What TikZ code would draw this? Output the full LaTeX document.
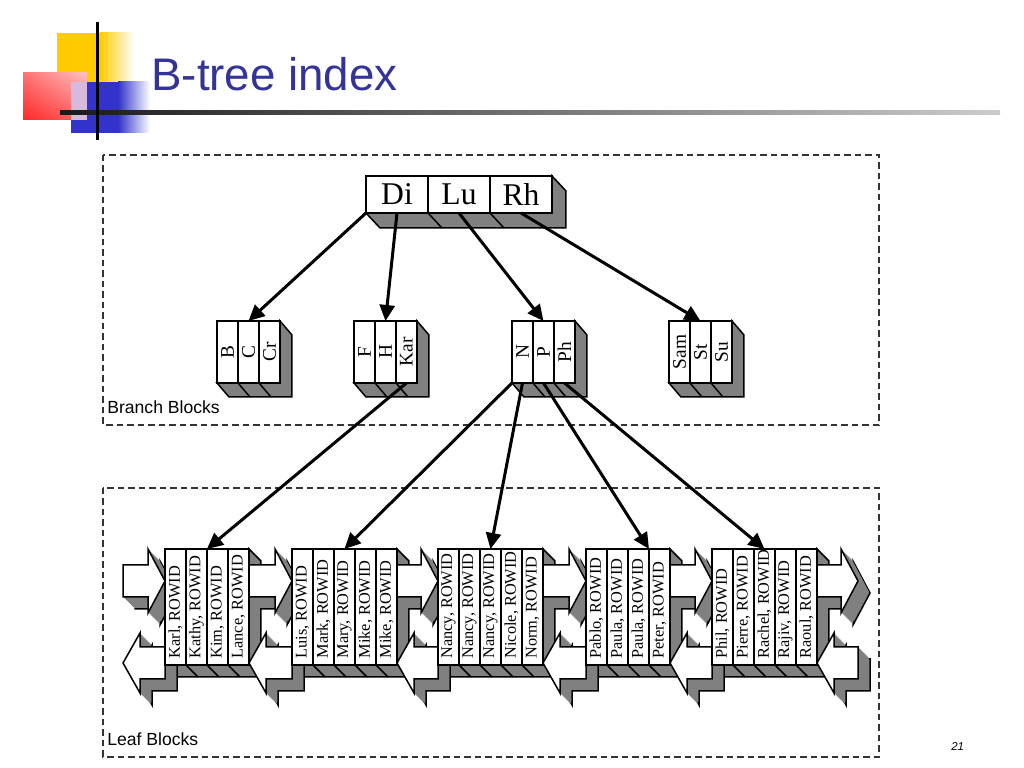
\documentclass[tikz,border=0pt]{standalone}
\usepackage{fontspec}
\setmainfont{Liberation Serif}
\newfontfamily\slidefont{Liberation Sans}
\usetikzlibrary{positioning,calc,arrows.meta,shadings}

\definecolor{titleblue}{RGB}{51,51,153}
\definecolor{facegray}{RGB}{128,128,128}
\definecolor{logoyellow}{RGB}{255,204,0}
\definecolor{logored}{RGB}{255,40,40}
\definecolor{logoblue}{RGB}{51,51,204}
\definecolor{logolilac}{RGB}{214,186,220}

\pgfdeclarelayer{faces}
\pgfdeclarelayer{links}
\pgfsetlayers{faces,links,main}

% rotated text of a leaf entry
\newcommand{\leaftext}[1]{\rotatebox{90}{\makebox[20.6mm][l]{#1}}}
\newcommand{\branchtext}[1]{\rotatebox{90}{#1}}

% depth faces of a block: first cell, last cell, inner cells, dx, dy
\newcommand{\blockdepth}[5]{%
  \begin{pgfonlayer}{faces}
  \filldraw[fill=facegray, draw=black, line width=0.3mm] (#1.south west) -- ++(#4,-#5)
    -- ($(#2.south east)+(#4,-#5)$) -- ($(#2.north east)+(#4,-#5)$)
    -- (#2.north east) -- (#2.south east) -- cycle;
  \foreach \c in {#3}
    \draw[line width=0.3mm] (\c.south east) -- ++(#4,-#5);
  \end{pgfonlayer}}

% block arrows between leaf blocks
\newcommand{\fwdshape}[2]{(#1,-56.5) -- (#2-1.7,-56.5) -- (#2-1.7,-54.9) -- (#2,-58.1)
  -- (#2-1.7,-61.3) -- (#2-1.7,-59.7) -- (#1,-59.7) -- cycle}
\newcommand{\backshape}[2]{(#1,-66.3) -- (#1+1.7,-63.3) -- (#1+1.7,-64.7) -- (#2,-64.7)
  -- (#2,-67.9) -- (#1+1.7,-67.9) -- (#1+1.7,-69.3) -- cycle}
\newcommand{\linkarrow}[1]{%
  \begin{pgfonlayer}{links}
  \filldraw[fill=facegray, draw=black, line width=0.3mm, shift={(1.2,-1.2)}] #1;
  \foreach \s in {0.05,0.1,...,1.15}
    \fill[facegray, shift={(\s,-\s)}] #1;
  \filldraw[fill=white, draw=black, line width=0.3mm] #1;
  \end{pgfonlayer}}

\begin{document}
\begin{tikzpicture}[scale=0.2,
  rootcell/.style={draw, fill=white, line width=0.3mm, minimum width=12.4mm, minimum height=7.4mm,
    inner sep=0pt, outer sep=0pt, font=\fontsize{18}{20}\selectfont},
  branchcell/.style={draw, fill=white, line width=0.3mm, minimum width=4.2mm, minimum height=12.4mm,
    inner sep=0pt, outer sep=0pt, font=\fontsize{11}{12}\selectfont},
  leafcell/.style={draw, fill=white, line width=0.3mm, minimum width=4.2mm, minimum height=23.2mm,
    inner sep=0pt, outer sep=0pt, font=\fontsize{9.3}{10}\selectfont},
  treelink/.style={line width=0.6mm, -{Triangle[length=3.2mm,width=3mm]}},
  frame/.style={black!80, line width=0.25mm, dash pattern=on 1.3mm off 0.8mm},
  blocklabel/.style={anchor=base west, inner sep=0pt, font=\slidefont\fontsize{10}{12}\selectfont}]
\useasboundingbox (0,0) rectangle (102.4,-76.8);

% slide heading
\fill[logoyellow] (5.7,-3.3) rectangle (10,-9.5);
\shade[left color=logoyellow, right color=white] (10,-3.3) rectangle (13.4,-9.5);
\shade[lower left=logored, upper right=red!25, upper left=red!55, lower right=red!60] (2.3,-7.3) rectangle (8.7,-12);
\fill[logolilac] (7.1,-8.2) rectangle (8.7,-12);
\fill[logoblue] (7.1,-12) rectangle (8.7,-13.3);
\fill[logoblue] (8.7,-8.2) rectangle (11.8,-13.3);
\shade[left color=logoblue, right color=white] (11.8,-8.2) rectangle (15,-13.3);
\shade[left color=black!90, right color=black!20] (6,-11.1) rectangle (100,-11.5);
\draw[line width=0.6mm] (9.7,-2.2) -- (9.7,-14);
\node[anchor=base west, inner sep=0pt, text=titleblue, font=\slidefont\fontsize{26}{30}\selectfont] (title) at (15.1,-9.1) {B-tree index};
\node[anchor=base west, inner sep=0pt, font=\slidefont\itshape\fontsize{6.5}{8}\selectfont] (pageno) at (95.1,-75.1) {21};

% frames
\draw[frame] (10.3,-15.5) rectangle (87.9,-42.5);
\draw[frame] (10.3,-48.8) rectangle (87.9,-75.7);
\node[blocklabel] (branchlabel) at (10.7,-41.4) {Branch Blocks};
\node[blocklabel] (leaflabel) at (10.7,-74.6) {Leaf Blocks};

% root block
\node[rootcell] (di) at (39.7,-19.45) {Di};
\node[rootcell, right=0pt of di] (lu) {Lu};
\node[rootcell, right=0pt of lu] (rh) {Rh};
\blockdepth{di}{rh}{di,lu}{1.4}{1.5}

% branch blocks
\node[branchcell] (b) at (22.75,-35.2) {\branchtext{B}};
\node[branchcell, right=0pt of b] (c) {\branchtext{C}};
\node[branchcell, right=0pt of c] (cr) {\branchtext{Cr}};
\blockdepth{b}{cr}{b,c}{1.2}{1.4}

\node[branchcell] (f) at (36.45,-35.2) {\branchtext{F}};
\node[branchcell, right=0pt of f] (h) {\branchtext{H}};
\node[branchcell, right=0pt of h] (kar) {\branchtext{Kar}};
\blockdepth{f}{kar}{f,h}{1.2}{1.4}

\node[branchcell] (n) at (52.25,-35.2) {\branchtext{N}};
\node[branchcell, right=0pt of n] (p) {\branchtext{P}};
\node[branchcell, right=0pt of p] (ph) {\branchtext{Ph}};
\blockdepth{n}{ph}{n,p}{1.2}{1.4}

\node[branchcell] (sam) at (67.95,-35.2) {\branchtext{Sam}};
\node[branchcell, right=0pt of sam] (st) {\branchtext{St}};
\node[branchcell, right=0pt of st] (su) {\branchtext{Su}};
\blockdepth{sam}{su}{sam,st}{1.2}{1.4}

% leaf blocks
\node[leafcell] (karl) at (17.55,-60.7) {\leaftext{Karl, ROWID}};
\node[leafcell, right=0pt of karl] (kathy) {\leaftext{Kathy, ROWID}};
\node[leafcell, right=0pt of kathy] (kim) {\leaftext{Kim, ROWID}};
\node[leafcell, right=0pt of kim] (lance) {\leaftext{Lance, ROWID}};
\blockdepth{karl}{lance}{karl,kathy,kim}{1.2}{1.2}

\node[leafcell] (luis) at (30.25,-60.7) {\leaftext{Luis, ROWID}};
\node[leafcell, right=0pt of luis] (mark) {\leaftext{Mark, ROWID}};
\node[leafcell, right=0pt of mark] (mary) {\leaftext{Mary, ROWID}};
\node[leafcell, right=0pt of mary] (mikea) {\leaftext{Mike, ROWID}};
\node[leafcell, right=0pt of mikea] (mikeb) {\leaftext{Mike, ROWID}};
\blockdepth{luis}{mikeb}{luis,mark,mary,mikea}{1.2}{1.2}

\node[leafcell] (nancya) at (44.85,-60.7) {\leaftext{Nancy, ROWID}};
\node[leafcell, right=0pt of nancya] (nancyb) {\leaftext{Nancy, ROWID}};
\node[leafcell, right=0pt of nancyb] (nancyc) {\leaftext{Nancy, ROWID}};
\node[leafcell, right=0pt of nancyc] (nicole) {\leaftext{Nicole, ROWID}};
\node[leafcell, right=0pt of nicole] (norm) {\leaftext{Norm, ROWID}};
\blockdepth{nancya}{norm}{nancya,nancyb,nancyc,nicole}{1.2}{1.2}

\node[leafcell] (pablo) at (59.65,-60.7) {\leaftext{Pablo, ROWID}};
\node[leafcell, right=0pt of pablo] (paulaa) {\leaftext{Paula, ROWID}};
\node[leafcell, right=0pt of paulaa] (paulab) {\leaftext{Paula, ROWID}};
\node[leafcell, right=0pt of paulab] (peter) {\leaftext{Peter, ROWID}};
\blockdepth{pablo}{peter}{pablo,paulaa,paulab}{1.2}{1.2}

\node[leafcell] (phil) at (72.25,-60.7) {\leaftext{Phil, ROWID}};
\node[leafcell, right=0pt of phil] (pierre) {\leaftext{Pierre, ROWID}};
\node[leafcell, right=0pt of pierre] (rachel) {\leaftext{Rachel, ROWID}};
\node[leafcell, right=0pt of rachel] (rajiv) {\leaftext{Rajiv, ROWID}};
\node[leafcell, right=0pt of rajiv] (raoul) {\leaftext{Raoul, ROWID}};
\blockdepth{phil}{raoul}{phil,pierre,rachel,rajiv}{1.2}{1.2}

% links between leaf blocks
\foreach \xa/\xb in {12.3/16.5, 24.9/29.2, 39.7/43.8, 54.3/58.6, 67/71.2, 81.7/85.8} {
  \linkarrow{\fwdshape{\xa}{\xb}}
  \linkarrow{\backshape{\xa}{\xb}}
}

% tree pointers
\draw[treelink] (di.south west) -- (c.north);
\draw[treelink] (di.south) -- (h.north);
\draw[treelink] (lu.south) -- (p.north);
\draw[treelink] (rh.south) -- (st.north);
\draw[treelink] (kar.south) -- (kathy.north east);
\draw[treelink] (n.south west) -- (mary.north);
\draw[treelink] (n.south) -- (nancyc.north);
\draw[treelink] (p.south) -- (paulab.north east);
\draw[treelink] (ph.south) -- (rachel.north);
\end{tikzpicture}
\end{document}
